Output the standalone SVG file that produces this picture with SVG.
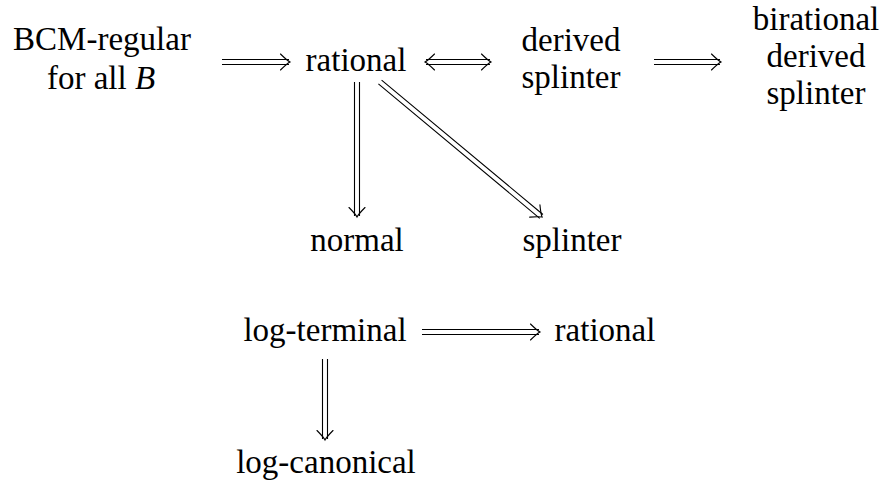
<svg xmlns="http://www.w3.org/2000/svg" width="886" height="484" viewBox="0 0 886 484">
<style>
text{font-family:'Liberation Serif','Times New Roman',serif;font-size:33px;fill:#000;text-anchor:middle}
.dl{stroke:#000;stroke-width:1.1;fill:none}
.hd{stroke:#000;stroke-width:1.1;fill:none;stroke-linecap:round}
</style>
<defs>
<path id="head" class="hd" d="M-9.5,-8 Q-3,-1.6 0,0 Q-3,1.6 -9.5,8"/>
</defs>
<rect width="886" height="484" fill="#fff"/>
<g id="bcm"><text x="102" y="50">BCM-regular</text><text x="101" y="89">for all <tspan font-style="italic">B</tspan></text></g>
<g id="rational1"><text x="356" y="71">rational</text></g>
<g id="derived"><text x="571" y="51">derived</text><text x="571" y="88">splinter</text></g>
<g id="birational"><text x="816" y="29.5">birational</text><text x="816" y="66.5">derived</text><text x="816" y="104">splinter</text></g>
<g id="normal"><text x="357" y="251">normal</text></g>
<g id="splinter"><text x="572" y="251">splinter</text></g>
<g id="logterminal"><text x="325" y="341">log-terminal</text></g>
<g id="rational2"><text x="605" y="341">rational</text></g>
<g id="logcanonical"><text x="326" y="473">log-canonical</text></g>
<g id="connectors">
<g transform="translate(222,62)"><path class="dl" d="M0,-2.5H67M0,2.5H67"/><use href="#head" x="68"/></g>
<g transform="translate(425,62)"><path class="dl" d="M1,-2.5H65M1,2.5H65"/><use href="#head" x="66"/><use href="#head" transform="rotate(180)"/></g>
<g transform="translate(654,62)"><path class="dl" d="M0,-2.5H66M0,2.5H66"/><use href="#head" x="67"/></g>
<g transform="translate(357,82) rotate(90)"><path class="dl" d="M0,-2.5H134M0,2.5H134"/><use href="#head" x="135"/></g>
<g transform="translate(380,82) rotate(39.8)"><path class="dl" d="M0,-2.5H210M0,2.5H210"/><use href="#head" x="211"/></g>
<g transform="translate(422,332)"><path class="dl" d="M0,-2.5H117M0,2.5H117"/><use href="#head" x="118"/></g>
<g transform="translate(325,359) rotate(90)"><path class="dl" d="M0,-2.5H80M0,2.5H80"/><use href="#head" x="81"/></g>
</g>
</svg>
